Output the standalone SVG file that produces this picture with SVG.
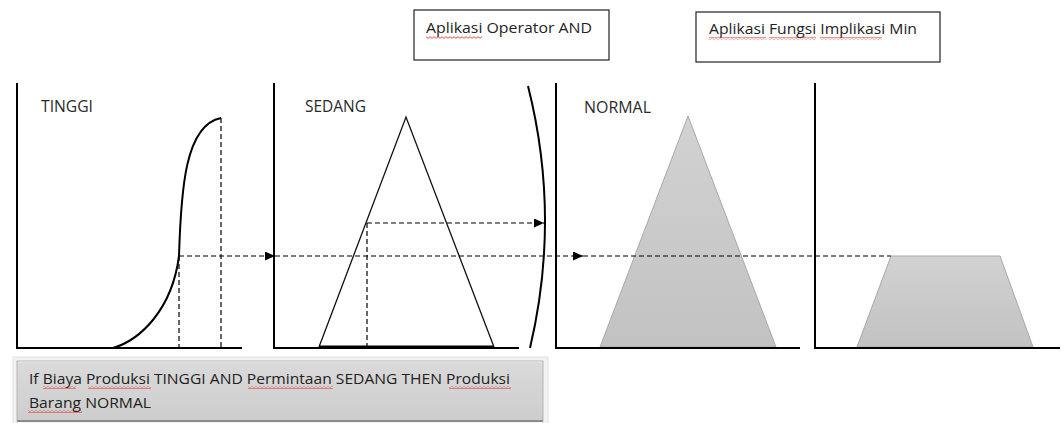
<svg xmlns="http://www.w3.org/2000/svg" width="1064" height="423" viewBox="0 0 1064 423">
<defs>
<style>
.axis{stroke:#000;stroke-width:2;fill:none}
.curve{stroke:#000;stroke-width:2;fill:none}
.dash{stroke:#000;stroke-width:1.2;stroke-dasharray:5 3;fill:none}
.lbl{font-family:"Open Sans","Liberation Sans",sans-serif;font-size:15.4px;fill:#2b2b2b}
.btxt{font-family:"Open Sans","Liberation Sans",sans-serif;font-size:15px;fill:#222}
.box{fill:#fff;stroke:#222;stroke-width:1.2}
.gtri{fill:url(#gfill);stroke:#a8a8a8;stroke-width:1}
.sq{fill:url(#squig)}
</style>
<linearGradient id="gfill" x1="0" y1="0" x2="0" y2="1">
<stop offset="0" stop-color="#d2d2d2"/>
<stop offset="1" stop-color="#c2c2c2"/>
</linearGradient>
<linearGradient id="rulefill" x1="0" y1="0" x2="0" y2="1">
<stop offset="0" stop-color="#dadada"/>
<stop offset="1" stop-color="#cdcdcd"/>
</linearGradient>
<pattern id="squig" x="0" y="0" width="4" height="3" patternUnits="userSpaceOnUse">
<path d="M0,2.3 L2,0.7 L4,2.3" stroke="#e02020" stroke-width="0.8" fill="none"/>
</pattern>
<marker id="arr" markerWidth="10" markerHeight="9" refX="10" refY="4.5" orient="auto" markerUnits="userSpaceOnUse">
<path d="M0,0 L10,4.5 L0,9 z" fill="#000"/>
</marker>
</defs>

<g id="box-operator">
<rect class="box" x="414" y="10" width="195" height="50"/>
<text class="btxt" x="426" y="33" textLength="166" lengthAdjust="spacingAndGlyphs">Aplikasi Operator AND</text>
<rect class="sq" x="426" y="36" width="56" height="3"/>
</g>

<g id="box-implikasi">
<rect class="box" x="696" y="12" width="244" height="50"/>
<text class="btxt" x="709" y="34" textLength="208" lengthAdjust="spacingAndGlyphs">Aplikasi Fungsi Implikasi Min</text>
<rect class="sq" x="709" y="37" width="57" height="3"/>
<rect class="sq" x="769" y="37" width="47" height="3"/>
<rect class="sq" x="820" y="37" width="62" height="3"/>
</g>

<g id="panel-tinggi">
<path class="axis" d="M17,83 V348 H242"/>
<text class="lbl" x="41" y="112" textLength="52" lengthAdjust="spacingAndGlyphs">TINGGI</text>
<path class="curve" d="M113,348 C140,340 172,310 179,256 C181,190 185,125 221,118"/>
</g>

<g id="panel-sedang">
<path class="axis" d="M274,83 V348 H519"/>
<text class="lbl" x="305" y="112" textLength="61" lengthAdjust="spacingAndGlyphs">SEDANG</text>
<path d="M319,347 L406,117 L494,347" fill="none" stroke="#111" stroke-width="1.3"/>
<line x1="319" y1="347" x2="494" y2="347" stroke="#000" stroke-width="3"/>
</g>

<g id="bracket">
<path class="curve" d="M528,86 Q561,217 530,348"/>
</g>

<g id="panel-normal">
<path class="gtri" d="M600,347 L688,116 L776,347 z"/>
<path class="axis" d="M556,83 V348 H800"/>
<text class="lbl" x="584" y="113" textLength="67" lengthAdjust="spacingAndGlyphs">NORMAL</text>
</g>

<g id="panel-result">
<path class="gtri" d="M857,347 L891,256 L1000,256 L1033,347 z"/>
<path class="axis" d="M815,83 V348 H1060"/>
</g>

<g id="connectors">
<line class="dash" x1="179" y1="256" x2="179" y2="347"/>
<line class="dash" x1="221" y1="118" x2="221" y2="347"/>
<line class="dash" x1="179" y1="256" x2="275" y2="256" marker-end="url(#arr)"/>
<line class="dash" x1="275" y1="256" x2="583" y2="256" marker-end="url(#arr)"/>
<line class="dash" x1="583" y1="256" x2="891" y2="256"/>
<line class="dash" x1="367" y1="223" x2="367" y2="347"/>
<line class="dash" x1="367" y1="223" x2="544" y2="223" marker-end="url(#arr)"/>
</g>

<g id="rule-box">
<rect x="13" y="357" width="535" height="68" fill="#f3f3f3" stroke="#e2e2e2" stroke-width="1"/>
<rect x="17" y="361" width="526" height="60" fill="url(#rulefill)" stroke="#b4b4b4" stroke-width="1"/>
<line x1="17" y1="421" x2="543" y2="421" stroke="#8a8a8a" stroke-width="2"/>
<line x1="18" y1="362" x2="542" y2="362" stroke="#e6e6e6" stroke-width="1"/>
<text class="btxt" x="29" y="384" textLength="481" lengthAdjust="spacingAndGlyphs">If Biaya Produksi TINGGI AND Permintaan SEDANG THEN Produksi</text>
<text class="btxt" x="29" y="408" textLength="122" lengthAdjust="spacingAndGlyphs">Barang NORMAL</text>
<rect class="sq" x="43" y="386" width="33" height="3"/>
<rect class="sq" x="88" y="386" width="63" height="3"/>
<rect class="sq" x="248" y="386" width="85" height="3"/>
<rect class="sq" x="449" y="386" width="62" height="3"/>
<rect class="sq" x="28" y="410" width="54" height="3"/>
</g>
</svg>
